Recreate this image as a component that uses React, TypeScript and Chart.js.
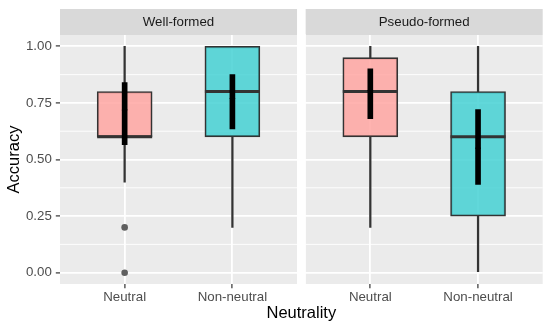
import React, { useEffect, useRef } from "react";
import { Chart, registerables } from "chart.js";

Chart.register(...registerables);

// ---- data ----
const panels = ["Well-formed", "Pseudo-formed"];
const categories = ["Neutral", "Non-neutral"];
// box order: WF-Neutral, WF-Non-neutral, PF-Neutral, PF-Non-neutral
const boxPanel = [0, 0, 1, 1];
const boxCategory = [0, 1, 0, 1];
const whiskerLow = [0.4, 0.2, 0.2, 0.0];
const q1 = [0.6, 0.6, 0.6, 0.25];
const median = [0.6, 0.8, 0.8, 0.6];
const q3 = [0.8, 1.0, 0.95, 0.8];
const whiskerHigh = [1.0, 1.0, 1.0, 1.0];
const meanValues = [0.725, 0.775, 0.81, 0.555];
const ciLow = [0.565, 0.635, 0.68, 0.39];
const ciHigh = [0.84, 0.875, 0.9, 0.72];
const outlierBox = [0, 0];
const outlierValues = [0.2, 0.0];
const yTicks = [0, 0.25, 0.5, 0.75, 1];
const yMinor = [0.125, 0.375, 0.625, 0.875];

// ---- layout helpers (discrete facet positions) ----
const PANEL_SPAN = 2.2;
const PANEL_GAP = 0.08;
const panelStart = (p: number) => 0.4 + p * (PANEL_SPAN + PANEL_GAP);
const xPos = (p: number, c: number) => panelStart(p) + 0.6 + c;
const boxX = boxPanel.map((p, i) => xPos(p, boxCategory[i]));
const X_MIN = panelStart(0);
const X_MAX = panelStart(panels.length - 1) + PANEL_SPAN;
const xTickValues: number[] = [];
const xTickLabels: string[] = [];
panels.forEach((_, p) =>
  categories.forEach((c, ci) => {
    xTickValues.push(xPos(p, ci));
    xTickLabels.push(c);
  })
);

const FONT = "'Liberation Sans', Arial, Helvetica, sans-serif";
const fillColors = ["rgba(255,166,162,0.85)", "rgba(69,209,211,0.85)"];
const STRIP_H = 26;

const facetPlugin = {
  id: "facets",
  beforeDraw(chart: any) {
    const { ctx, chartArea, scales } = chart;
    const x = scales.x;
    const y = scales.y;
    ctx.save();
    panels.forEach((name, p) => {
      const l = x.getPixelForValue(panelStart(p));
      const r = x.getPixelForValue(panelStart(p) + PANEL_SPAN);
      ctx.fillStyle = "#EBEBEB";
      ctx.fillRect(l, chartArea.top, r - l, chartArea.bottom - chartArea.top);
      ctx.strokeStyle = "#FFFFFF";
      ctx.lineWidth = 0.9;
      yMinor.forEach((v) => {
        const py = y.getPixelForValue(v);
        ctx.beginPath();
        ctx.moveTo(l, py);
        ctx.lineTo(r, py);
        ctx.stroke();
      });
      ctx.fillStyle = "#D9D9D9";
      ctx.fillRect(l, chartArea.top - STRIP_H, r - l, STRIP_H);
      ctx.fillStyle = "#1A1A1A";
      ctx.font = `13.3px ${FONT}`;
      ctx.textAlign = "center";
      ctx.textBaseline = "middle";
      ctx.fillText(name, (l + r) / 2, chartArea.top - STRIP_H / 2 + 0.5);
    });
    ctx.restore();
  },
  beforeDatasetsDraw(chart: any) {
    const { ctx, chartArea, scales } = chart;
    const x = scales.x;
    const l = x.getPixelForValue(panelStart(0) + PANEL_SPAN);
    const r = x.getPixelForValue(panelStart(1));
    ctx.save();
    ctx.fillStyle = "#FFFFFF";
    ctx.fillRect(l, chartArea.top - 1, r - l, chartArea.bottom - chartArea.top + 2);
    ctx.restore();
  },
};

export default function App() {
  const ref = useRef<HTMLCanvasElement | null>(null);

  useEffect(() => {
    if (!ref.current) return;
    const chart = new Chart(ref.current, {
      type: "bar",
      data: {
        datasets: [
          {
            type: "scatter",
            order: 0,
            data: outlierBox.map((b, i) => ({ x: boxX[b], y: outlierValues[i] })),
            pointRadius: 3.3,
            pointBackgroundColor: "#5f5f5f",
            pointBorderWidth: 0,
          } as any,
          {
            type: "scatter",
            order: 1,
            data: boxX.map((x, i) => ({ x, y: meanValues[i] })),
            pointStyle: "triangle",
            pointRadius: 3.5,
            pointBackgroundColor: "#000",
            pointBorderColor: "#000",
            pointBorderWidth: 0,
          } as any,
          {
            type: "bar",
            order: 2,
            data: boxX.map((x, i) => ({ x, y: [ciLow[i], ciHigh[i]] })),
            backgroundColor: "#000",
            borderWidth: 0,
            maxBarThickness: 5,
            barThickness: 5,
            grouped: false,
          } as any,
          {
            type: "scatter",
            order: 3,
            data: boxX.map((x, i) => ({ x, y: median[i] })),
            pointStyle: "line",
            pointRadius: 27.5,
            pointBorderColor: "#333",
            pointBorderWidth: 3,
          } as any,
          {
            type: "bar",
            order: 4,
            data: boxX.map((x, i) => ({ x, y: [q1[i], q3[i]] })),
            backgroundColor: boxCategory.map((c) => fillColors[c]),
            borderColor: "#333",
            borderWidth: 1.6,
            borderSkipped: false,
            maxBarThickness: 55,
            barThickness: 55,
            grouped: false,
          } as any,
          {
            type: "bar",
            order: 5,
            data: boxX.map((x, i) => ({ x, y: [q3[i], whiskerHigh[i]] })),
            backgroundColor: "#333",
            borderWidth: 0,
            maxBarThickness: 1.6,
            barThickness: 1.6,
            grouped: false,
          } as any,
          {
            type: "bar",
            order: 6,
            data: boxX.map((x, i) => ({ x, y: [whiskerLow[i], q1[i]] })),
            backgroundColor: "#333",
            borderWidth: 0,
            maxBarThickness: 1.6,
            barThickness: 1.6,
            grouped: false,
          } as any,
        ],
      },
      options: {
        animation: false,
        responsive: false,
        events: [],
        layout: {
          autoPadding: false,
          padding: { top: 35, left: 0, right: 7.3, bottom: 0 },
        },
        plugins: { legend: { display: false }, tooltip: { enabled: false } },
        scales: {
          x: {
            type: "linear",
            offset: false,
            bounds: "data",
            min: X_MIN,
            max: X_MAX,
            afterBuildTicks: (s: any) => {
              s.ticks = xTickValues.map((v) => ({ value: v }));
            },
            afterFit: (s: any) => {
              s.height = 45;
              s.paddingLeft = 0;
              s.paddingRight = 0;
            },
            ticks: {
              autoSkip: false,
              maxRotation: 0,
              padding: 1,
              color: "#4D4D4D",
              font: { family: FONT, size: 13.3 },
              callback: (_v: any, i: number) => xTickLabels[i],
            },
            grid: {
              offset: false,
              color: "#FFFFFF",
              lineWidth: 1.8,
              tickColor: "#333333",
              tickLength: 4.2,
              tickWidth: 1.2,
            },
            border: { display: false },
            title: {
              display: true,
              text: "Neutrality",
              color: "#000",
              font: { family: FONT, size: 16.5 },
              padding: { top: 0, bottom: 6 },
            },
          },
          y: {
            type: "linear",
            bounds: "data",
            min: -0.05,
            max: 1.05,
            afterBuildTicks: (s: any) => {
              s.ticks = yTicks.map((v) => ({ value: v }));
            },
            afterFit: (s: any) => {
              s.width = 60;
              s.paddingTop = 0;
              s.paddingBottom = 0;
            },
            ticks: {
              padding: 4,
              color: "#4D4D4D",
              font: { family: FONT, size: 13.3 },
              callback: (v: any) => Number(v).toFixed(2),
            },
            grid: {
              color: "#FFFFFF",
              lineWidth: 1.8,
              tickColor: "#333333",
              tickLength: 4.2,
              tickWidth: 1.2,
            },
            border: { display: false },
            title: {
              display: true,
              text: "Accuracy",
              color: "#000",
              font: { family: FONT, size: 16.5 },
              padding: { top: 5, bottom: 0 },
            },
          },
        },
      },
      plugins: [facetPlugin],
    } as any);
    return () => chart.destroy();
  }, []);

  return (
    <div
      style={{
        position: "fixed",
        left: 0,
        top: 0,
        width: 550,
        height: 329,
        background: "#FFFFFF",
      }}
    >
      <canvas ref={ref} width={550} height={329} style={{ width: 550, height: 329 }} />
    </div>
  );
}
